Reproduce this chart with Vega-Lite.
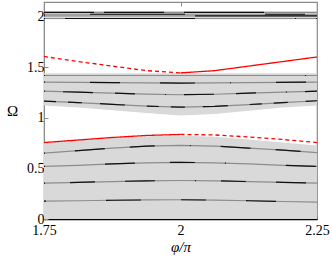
{
  "$schema": "https://vega.github.io/schema/vega-lite/v6.json",
  "autosize": {"type": "none"},
  "padding": {"left": 44, "top": 2, "right": 15, "bottom": 44},
  "width": 273,
  "height": 217,
  "config": {
    "view": {"stroke": "#8a8a8a", "strokeWidth": 1.2},
    "axis": {"labelFont": "Liberation Serif", "titleFont": "Liberation Serif", "labelFontSize": 14, "titleFontSize": 15, "labelColor": "#000", "titleColor": "#000", "titleFontWeight": "normal", "grid": false, "tickColor": "#8a8a8a", "domainColor": "#8a8a8a"}
  },
  "datasets": {
    "bands": [
      {"band": "A", "x": 1.75, "lo": 0, "hi": 0.75},
      {"band": "A", "x": 1.8125, "lo": 0, "hi": 0.775},
      {"band": "A", "x": 1.875, "lo": 0, "hi": 0.8},
      {"band": "A", "x": 1.9375, "lo": 0, "hi": 0.818},
      {"band": "A", "x": 2.0, "lo": 0, "hi": 0.825},
      {"band": "A", "x": 2.0625, "lo": 0, "hi": 0.812},
      {"band": "A", "x": 2.125, "lo": 0, "hi": 0.785},
      {"band": "A", "x": 2.1875, "lo": 0, "hi": 0.755},
      {"band": "A", "x": 2.25, "lo": 0, "hi": 0.725},
      {"band": "B", "x": 1.75, "lo": 1.12, "hi": 1.44},
      {"band": "B", "x": 1.8125, "lo": 1.1, "hi": 1.44},
      {"band": "B", "x": 1.875, "lo": 1.075, "hi": 1.44},
      {"band": "B", "x": 1.9375, "lo": 1.047, "hi": 1.44},
      {"band": "B", "x": 2.0, "lo": 1.022, "hi": 1.44},
      {"band": "B", "x": 2.0625, "lo": 1.037, "hi": 1.44},
      {"band": "B", "x": 2.125, "lo": 1.07, "hi": 1.44},
      {"band": "B", "x": 2.1875, "lo": 1.1, "hi": 1.44},
      {"band": "B", "x": 2.25, "lo": 1.12, "hi": 1.44},
      {"band": "C", "x": 1.75, "lo": 1.972, "hi": 2.05},
      {"band": "C", "x": 2.0, "lo": 1.972, "hi": 2.05},
      {"band": "C", "x": 2.25, "lo": 1.972, "hi": 2.05}
    ],
    "lines": [
      {"s": "L4", "x": 1.75, "y": 0.176}, {"s": "L4", "x": 1.8125, "y": 0.18}, {"s": "L4", "x": 1.875, "y": 0.185}, {"s": "L4", "x": 1.9375, "y": 0.188}, {"s": "L4", "x": 2.0, "y": 0.19}, {"s": "L4", "x": 2.0625, "y": 0.187}, {"s": "L4", "x": 2.125, "y": 0.18}, {"s": "L4", "x": 2.1875, "y": 0.173}, {"s": "L4", "x": 2.25, "y": 0.166},
      {"s": "L3", "x": 1.75, "y": 0.354}, {"s": "L3", "x": 1.8125, "y": 0.362}, {"s": "L3", "x": 1.875, "y": 0.37}, {"s": "L3", "x": 1.9375, "y": 0.377}, {"s": "L3", "x": 2.0, "y": 0.38}, {"s": "L3", "x": 2.0625, "y": 0.377}, {"s": "L3", "x": 2.125, "y": 0.37}, {"s": "L3", "x": 2.1875, "y": 0.362}, {"s": "L3", "x": 2.25, "y": 0.354},
      {"s": "L2", "x": 1.75, "y": 0.52}, {"s": "L2", "x": 1.8125, "y": 0.53}, {"s": "L2", "x": 1.875, "y": 0.545}, {"s": "L2", "x": 1.9375, "y": 0.555}, {"s": "L2", "x": 2.0, "y": 0.56}, {"s": "L2", "x": 2.0625, "y": 0.555}, {"s": "L2", "x": 2.125, "y": 0.545}, {"s": "L2", "x": 2.1875, "y": 0.53}, {"s": "L2", "x": 2.25, "y": 0.52},
      {"s": "L1", "x": 1.75, "y": 0.65}, {"s": "L1", "x": 1.8125, "y": 0.675}, {"s": "L1", "x": 1.875, "y": 0.7}, {"s": "L1", "x": 1.9375, "y": 0.72}, {"s": "L1", "x": 2.0, "y": 0.728}, {"s": "L1", "x": 2.0625, "y": 0.72}, {"s": "L1", "x": 2.125, "y": 0.7}, {"s": "L1", "x": 2.1875, "y": 0.68}, {"s": "L1", "x": 2.25, "y": 0.655},
      {"s": "M4", "x": 1.75, "y": 1.165}, {"s": "M4", "x": 1.8125, "y": 1.15}, {"s": "M4", "x": 1.875, "y": 1.132}, {"s": "M4", "x": 1.9375, "y": 1.115}, {"s": "M4", "x": 2.0, "y": 1.104}, {"s": "M4", "x": 2.0625, "y": 1.113}, {"s": "M4", "x": 2.125, "y": 1.13}, {"s": "M4", "x": 2.1875, "y": 1.15}, {"s": "M4", "x": 2.25, "y": 1.168},
      {"s": "M3", "x": 1.75, "y": 1.262}, {"s": "M3", "x": 1.8125, "y": 1.252}, {"s": "M3", "x": 1.875, "y": 1.243}, {"s": "M3", "x": 1.9375, "y": 1.233}, {"s": "M3", "x": 2.0, "y": 1.227}, {"s": "M3", "x": 2.0625, "y": 1.232}, {"s": "M3", "x": 2.125, "y": 1.243}, {"s": "M3", "x": 2.1875, "y": 1.253}, {"s": "M3", "x": 2.25, "y": 1.262},
      {"s": "M2", "x": 1.75, "y": 1.352}, {"s": "M2", "x": 1.875, "y": 1.347}, {"s": "M2", "x": 2.0, "y": 1.342}, {"s": "M2", "x": 2.125, "y": 1.347}, {"s": "M2", "x": 2.25, "y": 1.352},
      {"s": "M1", "x": 1.75, "y": 1.417}, {"s": "M1", "x": 2.0, "y": 1.417}, {"s": "M1", "x": 2.25, "y": 1.417},
      {"s": "T4", "x": 1.75, "y": 1.98}, {"s": "T4", "x": 2.0, "y": 1.98}, {"s": "T4", "x": 2.25, "y": 1.98},
      {"s": "T3", "x": 1.75, "y": 2.006}, {"s": "T3", "x": 2.0, "y": 2.006}, {"s": "T3", "x": 2.25, "y": 2.006},
      {"s": "T2", "x": 1.75, "y": 2.022}, {"s": "T2", "x": 2.0, "y": 2.022}, {"s": "T2", "x": 2.25, "y": 2.022},
      {"s": "T1", "x": 1.75, "y": 2.04}, {"s": "T1", "x": 2.0, "y": 2.04}, {"s": "T1", "x": 2.25, "y": 2.04}
    ],
    "red": [
      {"s": "lowSolid", "style": "solid", "x": 1.75, "y": 0.755}, {"s": "lowSolid", "style": "solid", "x": 1.8125, "y": 0.78}, {"s": "lowSolid", "style": "solid", "x": 1.875, "y": 0.805}, {"s": "lowSolid", "style": "solid", "x": 1.9375, "y": 0.825}, {"s": "lowSolid", "style": "solid", "x": 2.0, "y": 0.835},
      {"s": "lowDash", "style": "dashed", "x": 2.0, "y": 0.835}, {"s": "lowDash", "style": "dashed", "x": 2.0625, "y": 0.83}, {"s": "lowDash", "style": "dashed", "x": 2.125, "y": 0.81}, {"s": "lowDash", "style": "dashed", "x": 2.1875, "y": 0.785}, {"s": "lowDash", "style": "dashed", "x": 2.25, "y": 0.755},
      {"s": "upDash", "style": "dashed", "x": 1.75, "y": 1.605}, {"s": "upDash", "style": "dashed", "x": 1.8125, "y": 1.555}, {"s": "upDash", "style": "dashed", "x": 1.875, "y": 1.51}, {"s": "upDash", "style": "dashed", "x": 1.9375, "y": 1.465}, {"s": "upDash", "style": "dashed", "x": 2.0, "y": 1.443},
      {"s": "upSolid", "style": "solid", "x": 2.0, "y": 1.443}, {"s": "upSolid", "style": "solid", "x": 2.0625, "y": 1.465}, {"s": "upSolid", "style": "solid", "x": 2.125, "y": 1.51}, {"s": "upSolid", "style": "solid", "x": 2.1875, "y": 1.555}, {"s": "upSolid", "style": "solid", "x": 2.25, "y": 1.6}
    ]
  },
  "resolve": {"axis": {"x": "independent"}, "scale": {"strokeDash": "independent"}},
  "layer": [
    {
      "data": {"name": "bands"},
      "mark": {"type": "area", "color": "#d9d9d9", "opacity": 1},
      "encoding": {
        "x": {"field": "x", "type": "quantitative", "scale": {"domain": [1.75, 2.25], "nice": false, "zero": false},
              "axis": {"orient": "bottom", "values": [1.75, 2, 2.25], "format": ".3~g", "title": "φ/π", "titleFontStyle": "italic", "tickSize": -4, "labelPadding": 8, "titlePadding": 2, "domainColor": "#000", "domainWidth": 1.5, "labelFlush": false}},
        "y": {"field": "lo", "type": "quantitative", "scale": {"domain": [0, 2.143], "nice": false},
              "axis": {"values": [0, 0.5, 1, 1.5, 2], "format": "~g", "title": "Ω", "titleAngle": 0, "titleX": -32, "titleY": 108, "titleAlign": "center", "titleBaseline": "middle", "tickSize": -4, "labelPadding": 4}},
        "y2": {"field": "hi"},
        "detail": {"field": "band"}
      }
    },
    {
      "data": {"name": "lines"},
      "mark": {"type": "line", "color": "#8c8c8c", "strokeWidth": 1.2},
      "encoding": {
        "x": {"field": "x", "type": "quantitative", "axis": {"orient": "top", "values": [2], "labels": false, "domain": false, "title": null, "tickSize": -4}},
        "y": {"field": "y", "type": "quantitative"},
        "detail": {"field": "s"}
      }
    },
    {
      "data": {"name": "lines"},
      "mark": {"type": "line", "color": "#111111", "strokeWidth": 1.2},
      "encoding": {
        "x": {"field": "x", "type": "quantitative", "axis": null},
        "y": {"field": "y", "type": "quantitative"},
        "strokeDash": {"field": "s", "type": "nominal", "legend": null, "scale": {"domain": ["L4", "L3", "L2", "L1", "M4", "M3", "M2", "M1", "T4", "T3", "T2", "T1"], "range": [[2, 60, 35, 40, 25, 40, 30, 60], [1, 25, 25, 30, 30, 40], [1, 60, 30, 35, 25, 30], [1, 30, 30, 25, 25, 35], [12, 12, 14, 18, 25, 22], [1, 18, 30, 22, 20, 30], [1, 45, 30, 40, 35, 35], [1, 260], [1, 20, 130, 100], [1, 150, 160, 100], [1, 45, 95, 80, 40, 90], [50, 10, 60, 20, 80, 60]]}}
      }
    },
    {
      "data": {"name": "red"},
      "mark": {"type": "line", "color": "#ff0000", "strokeWidth": 1.3},
      "encoding": {
        "x": {"field": "x", "type": "quantitative", "axis": null},
        "y": {"field": "y", "type": "quantitative"},
        "detail": {"field": "s"},
        "strokeDash": {"field": "style", "type": "nominal", "scale": {"domain": ["solid", "dashed"], "range": [[1, 0], [4, 3]]}, "legend": null}
      }
    }
  ]
}
